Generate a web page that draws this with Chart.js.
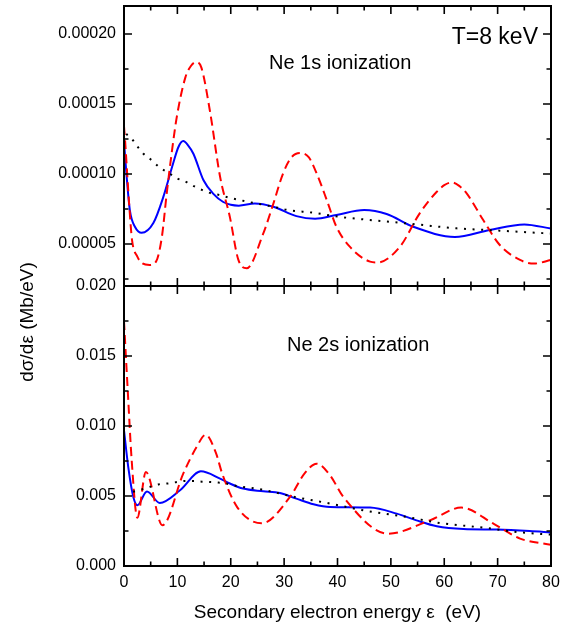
<!DOCTYPE html>
<html><head><meta charset="utf-8">
<script src="https://cdn.jsdelivr.net/npm/chart.js@4/dist/chart.umd.min.js"></script>
<style>html,body{margin:0;padding:0;background:#fff;}#wrap{position:relative;width:572px;height:628px;}</style>
</head><body><div id="wrap"><canvas id="c" width="572" height="628"></canvas></div>
<script>
const FONT = 'Arial, "Liberation Sans", Helvetica, sans-serif';

// axis ticks
const xTickValues = [0, 10, 20, 30, 40, 50, 60, 70, 80];
const xTickLabels = ['0', '10', '20', '30', '40', '50', '60', '70', '80'];
const xMinorTicks = [5, 15, 25, 35, 45, 55, 65, 75];
const topTickValues = [0.00005, 0.00010, 0.00015, 0.00020];
const topTickLabels = ['0.00005', '0.00010', '0.00015', '0.00020'];
const topMinorTicks = [0.000025, 0.000075, 0.000125, 0.000175];
const botTickValues = [0, 0.005, 0.010, 0.015, 0.020];
const botTickLabels = ['0.000', '0.005', '0.010', '0.015', '0.020'];
const botMinorTicks = [0.0025, 0.0075, 0.0125, 0.0175];

// Ne 1s ionization (top panel)
const ne1sSolidE = [0, 0.5, 1.1, 2.1, 3.3, 5.5, 7.4, 9.2, 10.2, 11.1, 12.0, 13.0, 14.9, 16.7, 18.6, 20.0, 21.5, 24.5, 28.0, 32.3, 35.8, 39.8, 45.0, 49.2, 54.2, 62.0, 68.5, 75.0, 80];
const ne1sSolidV = [1.23e-4, 9.8e-5, 7.4e-5, 6.2e-5, 5.8e-5, 6.5e-5, 8.4e-5, 1.075e-4, 1.193e-4, 1.235e-4, 1.205e-4, 1.145e-4, 9.55e-5, 8.6e-5, 8.0e-5, 7.8e-5, 7.74e-5, 7.9e-5, 7.66e-5, 6.99e-5, 6.8e-5, 7.07e-5, 7.42e-5, 7.14e-5, 6.23e-5, 5.5e-5, 6.0e-5, 6.4e-5, 6.1e-5];
const ne1sDashE = [0, 0.2, 0.6, 1.0, 1.5, 2.5, 3.4, 4.8, 6.0, 7.1, 8.0, 8.9, 9.9, 11.5, 12.5, 13.5, 14.5, 16.1, 18.0, 19.85, 21.4, 23.0, 26.1, 28.0, 29.8, 31.4, 33.0, 34.6, 36.1, 38.0, 39.8, 42.3, 46.1, 47.5, 51.7, 55.4, 58.6, 60.0, 61.4, 62.8, 64.2, 67.3, 70.4, 74.2, 76.8, 80];
const ne1sDashV = [1.34e-4, 1.24e-4, 1.0e-4, 7.66e-5, 5.3e-5, 4.1e-5, 3.63e-5, 3.5e-5, 3.74e-5, 5.52e-5, 8.6e-5, 1.14e-4, 1.41e-4, 1.69e-4, 1.77e-4, 1.8e-4, 1.76e-4, 1.45e-4, 9.8e-5, 6.9e-5, 3.9e-5, 3.27e-5, 5.76e-5, 7.9e-5, 1.004e-4, 1.12e-4, 1.15e-4, 1.12e-4, 1.004e-4, 8.13e-5, 6.23e-5, 4.81e-5, 3.74e-5, 3.68e-5, 4.81e-5, 7.19e-5, 8.73e-5, 9.2e-5, 9.4e-5, 9.15e-5, 8.61e-5, 6.71e-5, 4.93e-5, 3.86e-5, 3.6e-5, 3.86e-5];
const ne1sDotE = [0.4, 1.1, 2.25, 3.6, 5.2, 6.7, 8.5, 10.0, 11.6, 13.1, 14.7, 16.4, 18.0, 19.5, 21.2, 24.2, 28.0, 30.8, 35.5, 40.4, 44.8, 49.8, 54.8, 62.3, 70.4, 79.2, 80];
const ne1sDotV = [1.285e-4, 1.269e-4, 1.21e-4, 1.146e-4, 1.098e-4, 1.046e-4, 1.004e-4, 9.68e-5, 9.44e-5, 9.13e-5, 8.85e-5, 8.61e-5, 8.49e-5, 8.33e-5, 8.18e-5, 7.94e-5, 7.66e-5, 7.42e-5, 7.23e-5, 6.94e-5, 6.76e-5, 6.59e-5, 6.4e-5, 6.12e-5, 5.95e-5, 5.76e-5, 5.74e-5];

// Ne 2s ionization (bottom panel)
const ne2sSolidE = [0, 0.8, 1.75, 2.5, 4.3, 6.7, 10.5, 14.4, 18.0, 19.85, 22.3, 26.1, 29.2, 32.3, 35.5, 38.6, 46.1, 51.1, 54.8, 58.6, 63.6, 69.8, 76.0, 80];
const ne2sSolidV = [9.69e-3, 7.07e-3, 4.93e-3, 4.34e-3, 5.32e-3, 4.5e-3, 5.41e-3, 6.76e-3, 6.24e-3, 5.89e-3, 5.53e-3, 5.34e-3, 5.21e-3, 4.81e-3, 4.41e-3, 4.21e-3, 4.17e-3, 3.74e-3, 3.26e-3, 2.84e-3, 2.64e-3, 2.6e-3, 2.5e-3, 2.4e-3];
const ne2sDashE = [0, 0.8, 1.44, 2.5, 4.1, 7.2, 11.1, 13.6, 15.3, 17.2, 18.4, 21.2, 25.8, 31.1, 33.8, 36.1, 38.6, 41.1, 49.5, 57.3, 63.2, 69.2, 74.2, 80];
const ne2sDashV = [1.75e-2, 1.184e-2, 7.55e-3, 3.45e-3, 6.71e-3, 2.91e-3, 6.6e-3, 8.5e-3, 9.37e-3, 8.1e-3, 6.6e-3, 4.21e-3, 3.05e-3, 4.93e-3, 6.6e-3, 7.31e-3, 6.48e-3, 4.93e-3, 2.31e-3, 3.26e-3, 4.17e-3, 3.03e-3, 1.96e-3, 1.52e-3];
const ne2sDotE = [1.7, 3.3, 6.6, 8.3, 10.0, 11.5, 13.1, 14.6, 16.1, 17.7, 19.2, 20.5, 25.8, 32.0, 38.6, 44.8, 53.0, 59.2, 67.3, 73.6, 79.2, 80];
const ne2sDotV = [5.3e-3, 5.46e-3, 5.84e-3, 5.9e-3, 6.0e-3, 6.07e-3, 6.07e-3, 6.02e-3, 6.0e-3, 5.96e-3, 5.89e-3, 5.76e-3, 5.46e-3, 4.93e-3, 4.46e-3, 3.98e-3, 3.5e-3, 3.07e-3, 2.74e-3, 2.43e-3, 2.26e-3, 2.24e-3];

// texts
const xTitle = 'Secondary electron energy \u03b5  (eV)';
const yTitle = 'd\u03c3/d\u03b5 (Mb/eV)';
const label1s = 'Ne 1s ionization';
const label2s = 'Ne 2s ionization';
const labelT = 'T=8 keV';

const pts = (E, V) => E.map((e, i) => ({x: e, y: V[i]}));

function lineDs(E, V, axis, style) {
  const base = {data: pts(E, V), yAxisID: axis, pointRadius: 0, fill: false,
    cubicInterpolationMode: 'monotone', borderCapStyle: 'butt', borderJoinStyle: 'round'};
  if (style === 'solid') return Object.assign(base, {borderColor: '#0000ff', borderWidth: 2});
  if (style === 'dash') return Object.assign(base, {borderColor: '#ff0000', borderWidth: 2, borderDash: [9, 5]});
  return Object.assign(base, {borderColor: '#000000', borderWidth: 2, borderDash: [2, 6.6]});
}

function zeroPad(s) { s.paddingTop = 0; s.paddingBottom = 0; s.paddingLeft = 0; s.paddingRight = 0; }

const decor = {
  id: 'decor',
  afterDatasetsDraw(chart) {
    const ctx = chart.ctx;
    const {left, right, top, bottom} = chart.chartArea;
    const x = chart.scales.x, yT = chart.scales.yTop, yB = chart.scales.yBot;
    const MAJ = 8, MIN = 4.5;
    ctx.save();
    ctx.strokeStyle = '#000';
    ctx.lineWidth = 1.6;
    ctx.beginPath();
    for (const p of [yT, yB]) {
      for (const v of xTickValues) { const px = x.getPixelForValue(v); ctx.moveTo(px, p.top); ctx.lineTo(px, p.top + MAJ); ctx.moveTo(px, p.bottom); ctx.lineTo(px, p.bottom - MAJ); }
      for (const v of xMinorTicks) { const px = x.getPixelForValue(v); ctx.moveTo(px, p.top); ctx.lineTo(px, p.top + MIN); ctx.moveTo(px, p.bottom); ctx.lineTo(px, p.bottom - MIN); }
    }
    for (const [s, maj, mn] of [[yT, topTickValues, topMinorTicks], [yB, botTickValues, botMinorTicks]]) {
      for (const v of maj) { const py = s.getPixelForValue(v); ctx.moveTo(left, py); ctx.lineTo(left + MAJ, py); ctx.moveTo(right, py); ctx.lineTo(right - MAJ, py); }
      for (const v of mn) { const py = s.getPixelForValue(v); ctx.moveTo(left, py); ctx.lineTo(left + MIN, py); ctx.moveTo(right, py); ctx.lineTo(right - MIN, py); }
    }
    ctx.stroke();
    ctx.lineWidth = 2;
    ctx.strokeRect(left, top, right - left, bottom - top);
    ctx.beginPath(); ctx.moveTo(left, yT.bottom); ctx.lineTo(right, yT.bottom); ctx.stroke();
    ctx.restore();
  },
  afterDraw(chart) {
    const ctx = chart.ctx;
    ctx.save();
    ctx.fillStyle = '#000';
    ctx.textBaseline = 'alphabetic';
    ctx.textAlign = 'left';
    ctx.font = '20px ' + FONT;
    ctx.fillText(label1s, 269, 69);
    ctx.fillText(label2s, 287, 351);
    ctx.font = '23px ' + FONT;
    ctx.textAlign = 'right';
    ctx.fillText(labelT, 538, 44);
    ctx.font = '19px ' + FONT;
    ctx.textAlign = 'center';
    ctx.fillText(xTitle, 337.5, 618);
    ctx.translate(32.5, 322);
    ctx.rotate(-Math.PI / 2);
    ctx.fillText(yTitle, 0, 0);
    ctx.restore();
  }
};

const tickFont = {size: 16, family: FONT};

new Chart(document.getElementById('c'), {
  type: 'line',
  data: {
    datasets: [
      lineDs(ne1sDotE, ne1sDotV, 'yTop', 'dot'),
      lineDs(ne1sDashE, ne1sDashV, 'yTop', 'dash'),
      lineDs(ne1sSolidE, ne1sSolidV, 'yTop', 'solid'),
      lineDs(ne2sDotE, ne2sDotV, 'yBot', 'dot'),
      lineDs(ne2sDashE, ne2sDashV, 'yBot', 'dash'),
      lineDs(ne2sSolidE, ne2sSolidV, 'yBot', 'solid')
    ]
  },
  options: {
    responsive: false, animation: false, devicePixelRatio: 1,
    layout: {padding: {top: 6, right: 21, left: 0, bottom: 0}},
    plugins: {legend: {display: false}, tooltip: {enabled: false}},
    scales: {
      x: {
        type: 'linear', position: 'bottom', min: 0, max: 80,
        grid: {display: false, drawTicks: false}, border: {display: false},
        ticks: {padding: 7, font: tickFont, color: '#000', autoSkip: false, maxRotation: 0,
          callback: (v, i) => xTickLabels[i]},
        afterBuildTicks: s => { s.ticks = xTickValues.map(v => ({value: v})); },
        afterFit: s => { s.height = 62; zeroPad(s); }
      },
      yBot: {
        type: 'linear', position: 'left', stack: 'panels', stackWeight: 1, weight: 0,
        min: 0, max: 0.02,
        grid: {display: false, drawTicks: false}, border: {display: false},
        ticks: {padding: 8, font: tickFont, color: '#000', autoSkip: false,
          callback: (v, i) => botTickLabels[i]},
        afterBuildTicks: s => { s.ticks = botTickValues.map(v => ({value: v})); },
        afterFit: s => { s.width = 124; zeroPad(s); }
      },
      yTop: {
        type: 'linear', position: 'left', stack: 'panels', stackWeight: 1, weight: 1,
        min: 0.00002, max: 0.00022,
        grid: {display: false, drawTicks: false}, border: {display: false},
        ticks: {padding: 8, font: tickFont, color: '#000', autoSkip: false,
          callback: (v, i) => topTickLabels[i]},
        afterBuildTicks: s => { s.ticks = topTickValues.map(v => ({value: v})); },
        afterFit: s => { s.width = 124; zeroPad(s); }
      }
    }
  },
  plugins: [decor]
});
</script></body></html>
